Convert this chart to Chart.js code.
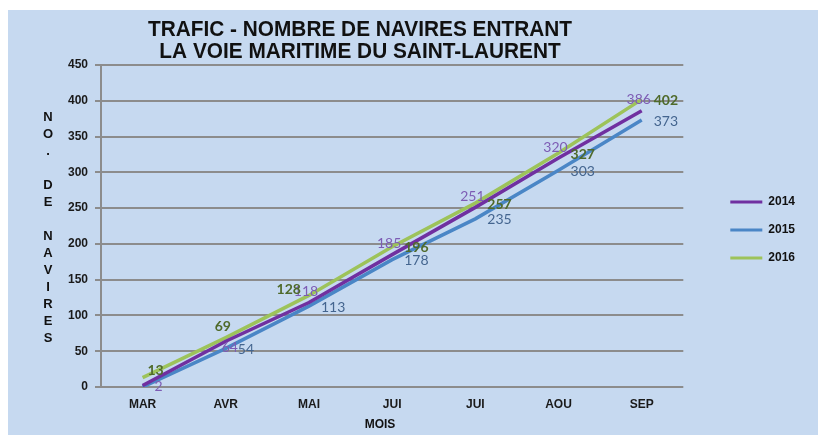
<!DOCTYPE html>
<html><head><meta charset="utf-8">
<script src="https://cdn.jsdelivr.net/npm/chart.js@4.4.0/dist/chart.umd.min.js"></script>
<style>html,body{margin:0;padding:0;background:#fff;overflow:hidden}</style>
</head><body>
<canvas id="c" width="818" height="435"></canvas>
<script>
// ---- data ----
const categories = ['MAR', 'AVR', 'MAI', 'JUI', 'JUI', 'AOU', 'SEP'];
const seriesNames = ['2014', '2015', '2016'];
const values2014 = [2, 64, 118, 185, 251, 320, 386];
const values2015 = [0, 54, 113, 178, 235, 303, 373];
const values2016 = [13, 69, 128, 196, 257, 327, 402];
const yTicks = [0, 50, 100, 150, 200, 250, 300, 350, 400, 450];
const titleLines = ['TRAFIC - NOMBRE DE NAVIRES ENTRANT', 'LA VOIE MARITIME DU SAINT-LAURENT'];
const yTitle = 'NO. DE NAVIRES';
const xTitle = 'MOIS';

// ---- styles ----
const SANS = '"Liberation Sans", Arial, sans-serif';
const LBL = 'Lato, "Open Sans", sans-serif';
const lineColors = ['#7030a0', '#4a86c6', '#9dc35a'];
const labelStyles = [
  { color: '#7d5cb4', font: '14px ' + LBL, pos: ['r', 'c', 'a', 'a', 'a', 'a', 'a'] },
  { color: '#44658f', font: '14px ' + LBL, pos: [null, 'r', 'r', 'r', 'r', 'r', 'r'] },
  { color: '#4f6a2a', font: 'bold 14px ' + LBL, pos: ['ar', 'a', 'l', 'r', 'r', 'r', 'r'] }
];
const allSeries = [values2014, values2015, values2016];

const panelPlugin = {
  id: 'panel',
  beforeDraw(chart) {
    const ctx = chart.ctx;
    ctx.save();
    ctx.fillStyle = '#ffffff';
    ctx.fillRect(0, 0, chart.width, chart.height);
    ctx.fillStyle = '#c6d9f0';
    ctx.fillRect(8, 10, chart.width - 8, chart.height - 10);
    ctx.restore();
  }
};

const textPlugin = {
  id: 'texts',
  afterDraw(chart) {
    const ctx = chart.ctx;
    ctx.save();
    ctx.fillStyle = '#111111';
    ctx.textBaseline = 'middle';
    ctx.textAlign = 'center';
    // title
    ctx.font = 'bold 22px ' + SANS;
    const w0 = ctx.measureText(titleLines[0]).width;
    const sx = 424 / w0;
    [30, 52].forEach((y, i) => {
      ctx.save();
      ctx.translate(360, y);
      ctx.scale(sx, 1);
      ctx.fillText(titleLines[i], 0, 0);
      ctx.restore();
    });
    // y title stacked
    ctx.font = 'bold 13px ' + SANS;
    [...yTitle].forEach((ch, i) => {
      if (ch !== ' ') ctx.fillText(ch, 48, 117 + i * 17);
    });
    // x title
    ctx.font = 'bold 12px ' + SANS;
    ctx.fillText(xTitle, 380, 425);
    ctx.restore();
  }
};

const labelPlugin = {
  id: 'dlabels',
  afterDatasetsDraw(chart) {
    const ctx = chart.ctx;
    ctx.save();
    ctx.textBaseline = 'middle';
    chart.data.datasets.forEach((ds, di) => {
      const meta = chart.getDatasetMeta(di);
      const st = labelStyles[di];
      ctx.font = st.font;
      ctx.fillStyle = st.color;
      meta.data.forEach((pt, i) => {
        const p = st.pos[i];
        if (!p) return;
        const txt = String(ds.data[i]);
        let x = pt.x, y = pt.y;
        if (p === 'r') { ctx.textAlign = 'left'; x += 12; y += 1; }
        else if (p === 'l') { ctx.textAlign = 'right'; x -= 8; y -= 6; }
        else if (p === 'a') { ctx.textAlign = 'center'; x -= 3; y -= 11; }
        else if (p === 'c') { ctx.textAlign = 'center'; x += 4; y += 6; }
        else if (p === 'ar') { ctx.textAlign = 'center'; x += 13; y -= 7; }
        ctx.fillText(txt, x, y);
      });
    });
    ctx.restore();
  }
};

const tickFont = { family: SANS, size: 12, weight: 'bold' };

new Chart(document.getElementById('c'), {
  type: 'line',
  data: {
    labels: categories,
    datasets: seriesNames.map((name, i) => ({
      label: name,
      data: allSeries[i],
      borderColor: lineColors[i],
      backgroundColor: lineColors[i],
      borderWidth: 3.5,
      pointRadius: 0,
      tension: 0,
      fill: false
    }))
  },
  options: {
    responsive: false,
    animation: false,
    devicePixelRatio: 1,
    layout: { padding: { top: 65, right: 13, bottom: 0, left: 0 } },
    plugins: {
      tooltip: { enabled: false },
      legend: {
        position: 'right',
        fullSize: false,
        title: { display: true, text: ' ', font: { size: 1 }, padding: { top: 0, bottom: 7 } },
        labels: {
          boxWidth: 32,
          boxHeight: 3,
          padding: 16,
          color: '#111111',
          font: tickFont,
          generateLabels(chart) {
            const items = Chart.defaults.plugins.legend.labels.generateLabels(chart);
            items.forEach(it => { it.fillStyle = it.strokeStyle; it.lineWidth = 0; });
            return items;
          }
        }
      }
    },
    scales: {
      x: {
        offset: true,
        grid: { display: false, drawTicks: false, offset: true },
        border: { display: false },
        ticks: { padding: 10, color: '#1a1a1a', font: tickFont, autoSkip: false, maxRotation: 0 },
        afterFit(s) { s.height = 48; }
      },
      y: {
        min: 0, max: 450,
        afterBuildTicks(s) { s.ticks = yTicks.map(v => ({ value: v })); },
        ticks: { padding: 7, color: '#1a1a1a', font: tickFont },
        grid: { color: '#8c8c8c', lineWidth: 2, tickLength: 6 },
        border: { color: '#8c8c8c', width: 2 },
        afterFit(s) { s.width = 101; }
      },
      yR: {
        position: 'right',
        grid: { display: false, drawTicks: false },
        border: { display: false },
        ticks: { display: false },
        afterFit(s) { s.width = 31; }
      }
    }
  },
  plugins: [panelPlugin, labelPlugin, textPlugin]
});
</script>
</body></html>
